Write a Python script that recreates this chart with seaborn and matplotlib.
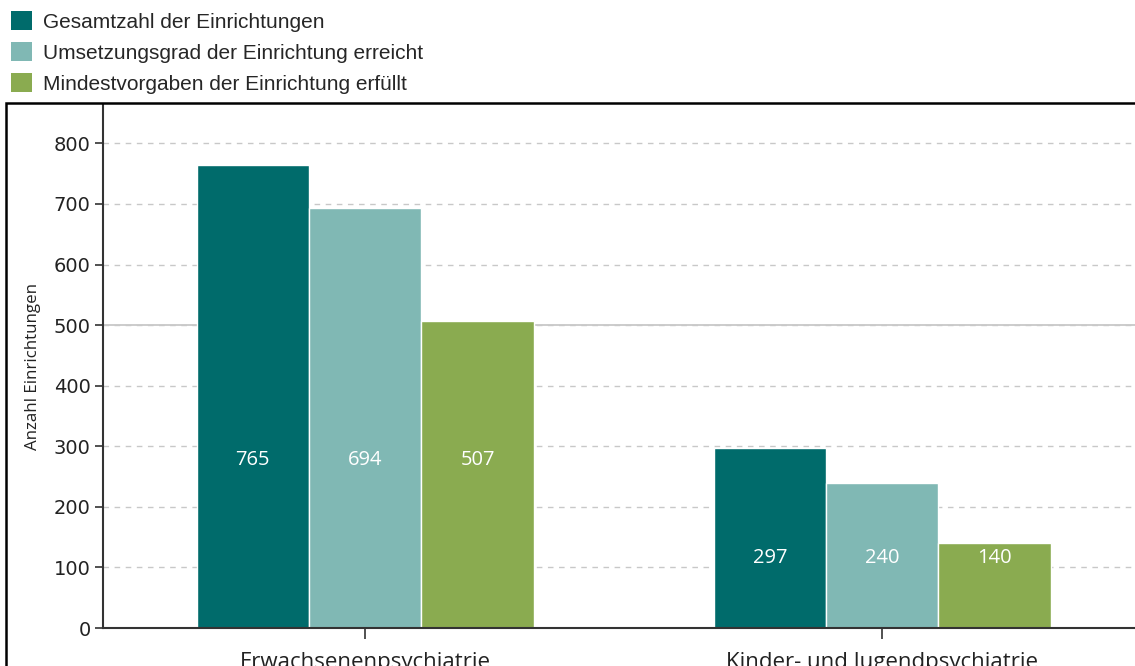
import pandas as pd
import seaborn as sns
import matplotlib.pyplot as plt
from matplotlib.patches import Patch, Rectangle

categories = ["Erwachsenenpsychiatrie", "Kinder- und Jugendpsychiatrie"]
series = ["Gesamtzahl der Einrichtungen",
          "Umsetzungsgrad der Einrichtung erreicht",
          "Mindestvorgaben der Einrichtung erfüllt"]
gesamt = [765, 297]
umsetzung = [694, 240]
mindest = [507, 140]
label_heights = [277, 115]  # where the value labels sit in each group

colors = ["#006B6B", "#80B8B4", "#8AAB50"]

df = pd.DataFrame({
    "kategorie": categories * 3,
    "serie": [s for s in series for _ in categories],
    "wert": gesamt + umsetzung + mindest,
})

sns.set_style("white")
plt.rcParams["font.family"] = ["Open Sans", "DejaVu Sans"]

fig = plt.figure(figsize=(11.35, 6.66), dpi=100)
ax = fig.add_axes([103 / 1135, 38 / 666, 1 - 103 / 1135, 524 / 666])

sns.barplot(data=df, x="kategorie", y="wert", hue="serie", palette=colors,
            width=0.652, saturation=1, legend=False, ax=ax)

ax.set_xlim(-0.507, 1.489)
ax.set_ylim(0, 865)
ax.set_yticks(range(0, 801, 100))
ax.yaxis.grid(True, color="#C8C8C8", linestyle=(0, (4, 4)), linewidth=1)
ax.set_axisbelow(True)
ax.axhline(500, color="#C8C8C8", linewidth=1.3, zorder=0.5)

for s in ["top", "right"]:
    ax.spines[s].set_visible(False)
for s in ["left", "bottom"]:
    ax.spines[s].set_color("#333333")
    ax.spines[s].set_linewidth(1.5)

ax.tick_params(axis="y", length=6, width=1.2, color="#333333", labelsize=14, pad=3, left=True,
               labelcolor="#222222")
ax.tick_params(axis="x", length=8, width=1.2, color="#333333", labelsize=16, pad=9, bottom=True,
               labelcolor="#222222")
for t in ax.get_yticklabels():
    t.set_family(["DejaVu Sans"])
ax.set_xlabel("")
ax.set_ylabel("Anzahl Einrichtungen", fontsize=12.2, labelpad=9, color="#222222")

# value labels inside the bars
for cont in ax.containers:
    for i, bar in enumerate(cont):
        x = bar.get_x() + bar.get_width() / 2
        ax.text(x, label_heights[i], f"{int(bar.get_height())}", ha="center", va="center",
                color="white", fontsize=14.5)

# legend at top left
handles = [Patch(facecolor=c, edgecolor="none") for c in colors]
fig.legend(handles, series, loc="upper left", bbox_to_anchor=(0.0, 1.0),
           frameon=False, handlelength=1.0, handleheight=1.0,
           handletextpad=0.5, labelspacing=0.5, borderaxespad=0.15,
           prop={"family": ["Liberation Sans", "DejaVu Sans"], "size": 15})

# outer frame around the plot area
fig.patches.append(Rectangle((6 / 1135, -0.1), 1.2, (666 - 103) / 666 + 0.1,
                             transform=fig.transFigure, fill=False,
                             edgecolor="black", linewidth=1.8))

fig.savefig("out.png", dpi=100)
